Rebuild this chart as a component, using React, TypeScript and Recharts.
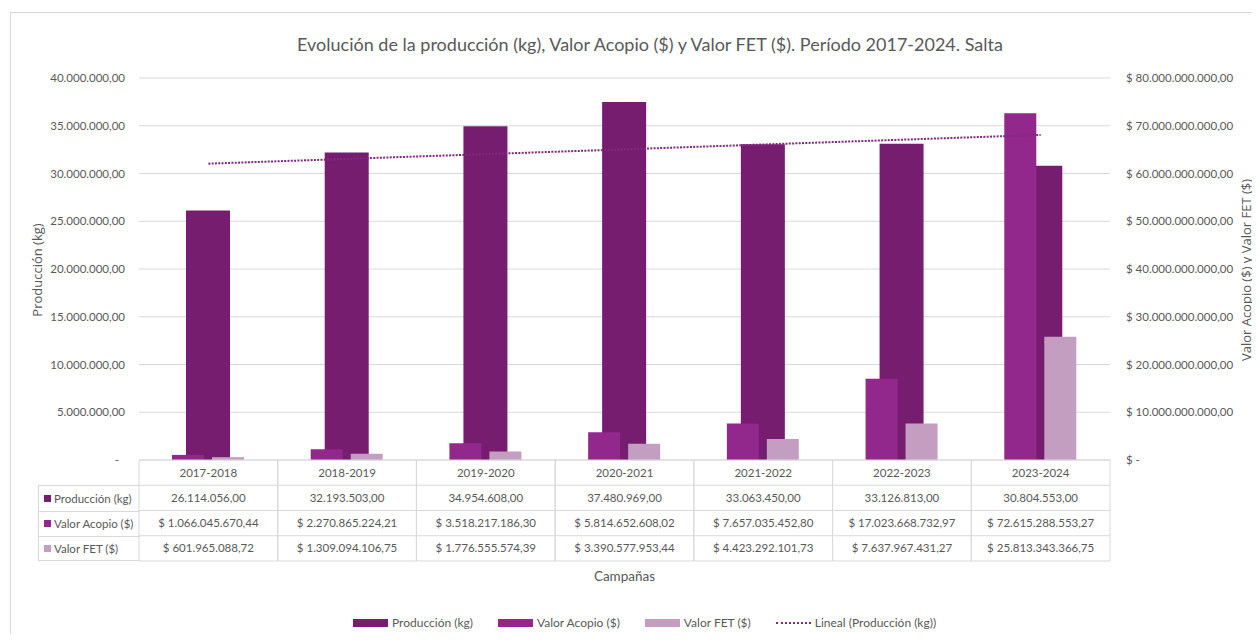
import React from 'react';
import { BarChart, Bar, Line, XAxis, YAxis, CartesianGrid } from 'recharts';

const campaigns = ['2017-2018', '2018-2019', '2019-2020', '2020-2021', '2021-2022', '2022-2023', '2023-2024'];
const produccion = [26114056.0, 32193503.0, 34954608.0, 37480969.0, 33063450.0, 33126813.0, 30804553.0];
const valorAcopio = [1066045670.44, 2270865224.21, 3518217186.3, 5814652608.02, 7657035452.8, 17023668732.97, 72615288553.27];
const valorFET = [601965088.72, 1309094106.75, 1776555574.39, 3390577953.44, 4423292101.73, 7637967431.27, 25813343366.75];
// linear trend of production
const lineal = [31030000, 31530000, 32030000, 32530000, 33040000, 33540000, 34040000];

const leftTicks = [0, 5000000, 10000000, 15000000, 20000000, 25000000, 30000000, 35000000, 40000000];
const rightTicks = [0, 10000000000, 20000000000, 30000000000, 40000000000, 50000000000, 60000000000, 70000000000, 80000000000];

const seriesNames = ['Producción (kg)', 'Valor Acopio ($)', 'Valor FET ($)', 'Lineal (Producción (kg))'];
const C_PROD = '#761d70';
const C_ACO = '#92278c';
const C_FET = '#c49ec1';
const C_TREND = '#82297e';
const TXT = '#595959';
const GRID = '#d9d9d9';
const FONT = 'Lato, "Open Sans", sans-serif';

const data = campaigns.map((c, i) => ({
  campaign: c,
  produccion: produccion[i],
  acopio: valorAcopio[i],
  fet: valorFET[i],
  lineal: lineal[i],
}));

function fmt(v: number): string {
  const s = Math.abs(v).toFixed(2);
  const [ip, dp] = s.split('.');
  const withDots = ip.replace(/\B(?=(\d{3})+(?!\d))/g, '.');
  return withDots + ',' + dp;
}

const W = 1252;
const H = 626;
const PLOT_L = 131;
const PLOT_R = 1102;
const PLOT_T = 70;
const PLOT_B = 452;
const ROW_H = 25.25;
const COL_W = (PLOT_R - PLOT_L) / campaigns.length;
const FS = 11.5;

const TableTick = (props: any) => {
  const { x, payload, index } = props;
  const i = index ?? campaigns.indexOf(payload.value);
  const left = x - COL_W / 2;
  const right = x + COL_W / 2;
  const rows = [
    payload.value,
    fmt(produccion[i]),
    '$ ' + fmt(valorAcopio[i]),
    '$ ' + fmt(valorFET[i]),
  ];
  return (
    <g>
      <line x1={left} x2={left} y1={PLOT_B} y2={PLOT_B + 4 * ROW_H} stroke={GRID} strokeWidth={1} />
      <line x1={right} x2={right} y1={PLOT_B} y2={PLOT_B + 4 * ROW_H} stroke={GRID} strokeWidth={1} />
      {[0, 1, 2, 3, 4].map((r) => (
        <line key={r} x1={left} x2={right} y1={PLOT_B + r * ROW_H} y2={PLOT_B + r * ROW_H} stroke={GRID} strokeWidth={1} />
      ))}
      {rows.map((t, r) => (
        <text key={r} x={x} y={PLOT_B + r * ROW_H + ROW_H / 2} dy="0.35em" textAnchor="middle" fontSize={FS} fill={TXT} fontFamily={FONT}>
          {t}
        </text>
      ))}
    </g>
  );
};

const LeftTick = (props: any) => {
  const { y, payload } = props;
  const v = payload.value;
  return (
    <text x={v === 0 ? 111 : 117} y={y} dy="0.35em" textAnchor="end" fontSize={FS} fill={TXT} fontFamily={FONT}>
      {v === 0 ? '-' : fmt(v)}
    </text>
  );
};

const RightTick = (props: any) => {
  const { y, payload } = props;
  const v = payload.value;
  return (
    <text x={1118} y={y} dy="0.35em" textAnchor="start" fontSize={FS} fill={TXT} fontFamily={FONT}>
      {v === 0 ? '$ -' : '$ ' + fmt(v)}
    </text>
  );
};

const rowSwatches = [C_PROD, C_ACO, C_FET];

export default function App() {
  return (
    <div style={{ position: 'relative', width: W, height: H, overflow: 'hidden', fontFamily: FONT }}>
      <div style={{ position: 'absolute', left: 2, top: 4, width: 1400, height: 800, borderLeft: `1px solid ${GRID}`, borderTop: `1px solid ${GRID}` }} />
      <div style={{ position: 'absolute', left: 0, top: 25, width: 1284, textAlign: 'center', fontSize: 18, color: TXT, whiteSpace: 'nowrap' }}>
        Evolución de la producción (kg), Valor Acopio ($) y Valor FET ($). Período 2017-2024. Salta
      </div>
      <BarChart
        width={W}
        height={H}
        data={data}
        margin={{ top: PLOT_T, right: 0, bottom: 0, left: 0 }}
        barGap={8}
        style={{ position: 'absolute', left: 0, top: 0 }}
      >
        <CartesianGrid vertical={false} stroke={GRID} xAxisId="main" yAxisId="left" ticks={leftTicks} />
        <XAxis
          xAxisId="main"
          dataKey="campaign"
          height={H - PLOT_T - (PLOT_B - PLOT_T)}
          axisLine={false}
          tickLine={false}
          tickSize={0}
          tickMargin={0}
          interval={0}
          tick={<TableTick />}
        />
        <XAxis xAxisId="prod" dataKey="campaign" hide />
        <YAxis
          yAxisId="left"
          orientation="left"
          width={PLOT_L}
          domain={[0, 40000000]}
          ticks={leftTicks}
          interval={0}
          axisLine={false}
          tickLine={false}
          tick={<LeftTick />}
        />
        <YAxis
          yAxisId="right"
          orientation="right"
          width={W - PLOT_R}
          domain={[0, 80000000000]}
          ticks={rightTicks}
          interval={0}
          axisLine={false}
          tickLine={false}
          tick={<RightTick />}
        />
        <Bar xAxisId="prod" yAxisId="left" dataKey="produccion" name={seriesNames[0]} fill={C_PROD} barSize={44} isAnimationActive={false} />
        <Bar xAxisId="main" yAxisId="right" dataKey="acopio" name={seriesNames[1]} fill={C_ACO} barSize={32} isAnimationActive={false} />
        <Bar xAxisId="main" yAxisId="right" dataKey="fet" name={seriesNames[2]} fill={C_FET} barSize={32} isAnimationActive={false} />
        <Line
          xAxisId="main"
          yAxisId="left"
          dataKey="lineal"
          name={seriesNames[3]}
          stroke={C_TREND}
          strokeWidth={2}
          strokeDasharray="2 1.3"
          dot={false}
          activeDot={false}
          isAnimationActive={false}
        />
      </BarChart>

      {/* left column of data table */}
      <div style={{ position: 'absolute', left: 30, top: PLOT_B + ROW_H, width: PLOT_L - 30, height: 3 * ROW_H, borderLeft: `1px solid ${GRID}` }}>
        {[0, 1, 2].map((r) => (
          <div
            key={r}
            style={{
              position: 'absolute',
              left: 0,
              top: r * ROW_H,
              width: PLOT_L - 30,
              height: ROW_H,
              borderTop: `1px solid ${GRID}`,
              borderBottom: r === 2 ? `1px solid ${GRID}` : 'none',
              boxSizing: 'border-box',
              display: 'flex',
              alignItems: 'center',
              fontSize: FS,
              color: TXT,
              whiteSpace: 'nowrap',
            }}
          >
            <span style={{ display: 'inline-block', width: 7, height: 7, background: rowSwatches[r], marginLeft: 5, marginRight: 3 }} />
            {seriesNames[r]}
          </div>
        ))}
      </div>

      {/* axis titles */}
      <div style={{ position: 'absolute', left: 29 - 100, top: 262 - 10, width: 200, height: 20, textAlign: 'center', transform: 'rotate(-90deg)', fontSize: 13, color: TXT, fontFamily: '"Open Sans", sans-serif', lineHeight: '20px' }}>
        Producción (kg)
      </div>
      <div style={{ position: 'absolute', left: 1238 - 150, top: 262 - 10, width: 300, height: 20, textAlign: 'center', transform: 'rotate(-90deg)', fontSize: 13, color: TXT, fontFamily: '"Open Sans", sans-serif', lineHeight: '20px' }}>
        Valor Acopio ($) y Valor FET ($)
      </div>
      <div style={{ position: 'absolute', left: PLOT_L, top: 560, width: PLOT_R - PLOT_L, textAlign: 'center', fontSize: 13.5, color: TXT }}>
        Campañas
      </div>

      {/* legend */}
      <div style={{ position: 'absolute', left: 345, top: 607, display: 'flex', alignItems: 'center', fontSize: 12, color: TXT, whiteSpace: 'nowrap' }}>
        {seriesNames.map((n, i) => (
          <div key={n} style={{ display: 'flex', alignItems: 'center', marginRight: 25 }}>
            {i < 3 ? (
              <span style={{ display: 'inline-block', width: 35, height: 8, background: [C_PROD, C_ACO, C_FET][i], marginRight: 4 }} />
            ) : (
              <span style={{ display: 'inline-block', width: 35, height: 0, borderTop: `2px dotted ${C_TREND}`, marginRight: 4 }} />
            )}
            {n}
          </div>
        ))}
      </div>
    </div>
  );
}
